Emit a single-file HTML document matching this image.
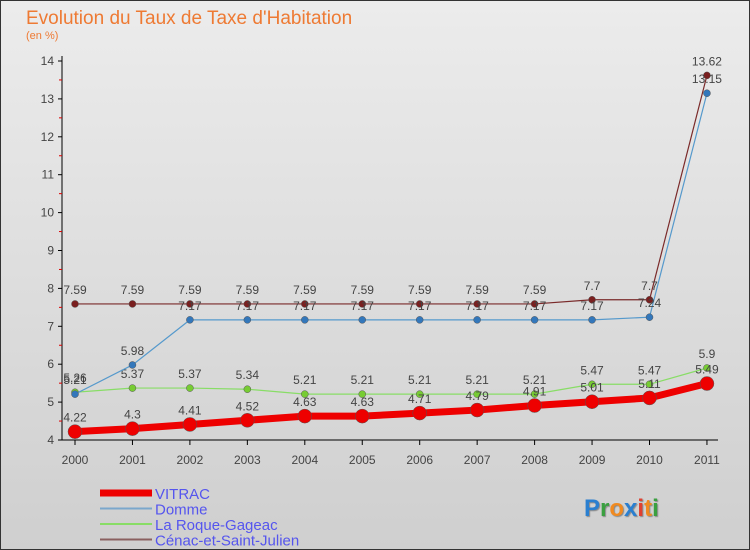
<!DOCTYPE html>
<html><head><meta charset="utf-8"><style>
body{margin:0;width:750px;height:550px;overflow:hidden;font-family:"Liberation Sans",sans-serif}
#c{position:absolute;left:0;top:0;width:748px;height:548px;border:1px solid #333;background:linear-gradient(#ececec,#cfcfcf)}
</style></head><body>
<div id="c">
<svg id="s" width="750" height="550" style="position:absolute;left:-1px;top:-1px">
<text x="26" y="24" font-size="19" fill="#ee7a33">Evolution du Taux de Taxe d'Habitation</text>
<text x="26" y="39" font-size="11" fill="#ee7a33">(en %)</text>
</svg>
</div>
<script>
const years=["2000","2001","2002","2003","2004","2005","2006","2007","2008","2009","2010","2011"];
const vitrac=[4.22,4.3,4.41,4.52,4.63,4.63,4.71,4.79,4.91,5.01,5.11,5.49];
const domme=[5.21,5.98,7.17,7.17,7.17,7.17,7.17,7.17,7.17,7.17,7.24,13.15];
const roque=[5.26,5.37,5.37,5.34,5.21,5.21,5.21,5.21,5.21,5.47,5.47,5.9];
const cenac=[7.59,7.59,7.59,7.59,7.59,7.59,7.59,7.59,7.59,7.7,7.7,13.62];
const yTicks=[4,5,6,7,8,9,10,11,12,13,14];
const svg=document.getElementById('s');const NS='http://www.w3.org/2000/svg';
const X=i=>75+i*57.45, Y=v=>440-(v-4)*37.9;
function el(t,a,p){const e=document.createElementNS(NS,t);for(const k in a)e.setAttribute(k,a[k]);(p||svg).appendChild(e);return e;}
let ax=el('line',{x1:62,y1:56,x2:62,y2:440,stroke:'#000'});


let bx=el('line',{x1:62,y1:440,x2:718,y2:440,stroke:'#000'});


yTicks.forEach(v=>{el('line',{x1:58,y1:Y(v),x2:62,y2:Y(v),stroke:'#000'});
if(v<14)el('line',{x1:59,y1:Y(v+0.5),x2:62,y2:Y(v+0.5),stroke:'#d00'});
const t=el('text',{x:54,y:Y(v)+4,'font-size':12,'text-anchor':'end',fill:'#444'});t.textContent=v;

});
years.forEach((y,i)=>{el('line',{x1:X(i),y1:440,x2:X(i),y2:445,stroke:'#000'});
const t=el('text',{x:X(i),y:464,'font-size':12,'text-anchor':'middle',fill:'#444'});t.textContent=y;

});
function series(d,col,dot,w,r,name){
const g=el('g',{});


el('polyline',{points:d.map((v,i)=>X(i)+','+Y(v)).join(' '),fill:'none',stroke:col,'stroke-width':w},g);
d.forEach((v,i)=>{const c=el('circle',{cx:X(i),cy:Y(v),r:r,fill:dot,stroke:'#555','stroke-width':0.5},g);


const t=el('text',{x:X(i),y:Y(v)-10,'font-size':12,'text-anchor':'middle',fill:'#444'},g);t.textContent=v;

});}
series(cenac,'#7a2a2a','#7a1f1f',1.2,3.5,'cenac');
series(roque,'#88dd66','#77cc33',1.2,3.5,'la-roque');
series(domme,'#5599cc','#3377bb',1.2,3.5,'domme');
series(vitrac,'#ee0000','#ee0000',7,7,'vitrac');
const leg=[['VITRAC','#ee0000',7],['Domme','#7aa7cc',2],['La Roque-Gageac','#88dd66',2],['Cénac-et-Saint-Julien','#8a6060',2]];
leg.forEach((l,i)=>{const yy=493+i*15.5;
const g=el('g',{});


el('line',{x1:100,y1:yy,x2:152,y2:yy,stroke:l[1],'stroke-width':l[2]},g);
const t=el('text',{x:155,y:yy+6,'font-size':15,fill:'#5555ee'},g);t.textContent=l[0];});
const lg=el('text',{x:584,y:516,'font-size':24,'font-weight':'bold',style:'text-shadow:1px 1px 1px #888'});


[['P','#2a7fd0'],['r','#3aa040'],['o','#f08a20'],['x','#2a7fd0'],['i','#e04030'],['t','#f08a20'],['i','#3aa040']].forEach(c=>{const s=el('tspan',{fill:c[1]},lg);s.textContent=c[0];});
</script>
</body></html>
